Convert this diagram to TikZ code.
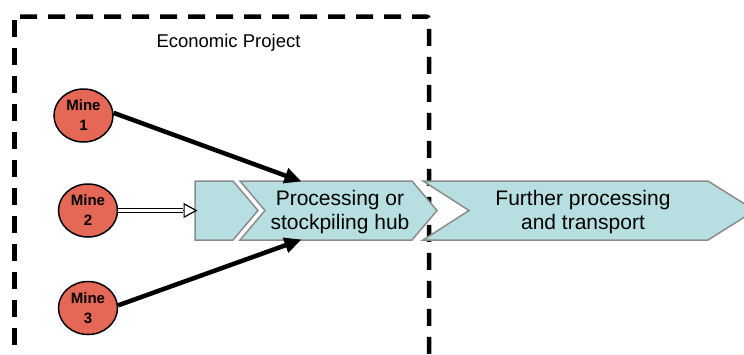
\documentclass[tikz,border=0pt]{standalone}
\usepackage{fontspec}
\setmainfont{Liberation Sans}
\usetikzlibrary{arrows.meta,shapes.geometric}
\definecolor{chevfill}{RGB}{183,223,226}
\definecolor{chevline}{RGB}{140,140,140}
\definecolor{minefill}{RGB}{229,104,86}

\begin{document}
\begin{tikzpicture}[x=1pt,y=-1pt,
  frame/.style={line width=4.5pt, dash pattern=on 17pt off 11pt},
  chev/.style={fill=chevfill, draw=chevline, line width=1.5pt, line join=miter},
  mine/.style={ellipse, draw=black, line width=1.5pt, fill=minefill,
    minimum width=59pt, minimum height=53pt, inner sep=0pt, align=center,
    font=\fontsize{15}{20}\selectfont\bfseries},
  flow/.style={align=center, font=\fontsize{21}{24.5}\selectfont},
  feed/.style={line width=4.5pt, -{Triangle[length=17pt,width=15pt]}},
  feedshaft/.style={line width=1.2pt, double=white, double distance=3.4pt},
  feedhead/.style={line width=1.2pt, -{Triangle[open,length=14pt,width=15pt]}}
]
\useasboundingbox (0,0) rectangle (744,354);
\clip (0,0) rectangle (744,354);

% dashed boundary of the economic project (open at the bottom)
\draw[frame, dash phase=24.5pt] (14.5,16.5) -- (14.5,370);
\draw[frame, dash phase=22.5pt, rounded corners=3pt] (14.5,16.5) -- (429,16.5) -- (429,370);
\node[font=\fontsize{18.5}{22}\selectfont] (title) at (228.5,43) {Economic Project};

% process chevrons
\draw[chev] (195,181) -- (233,181) -- (258,210.5) -- (233,240) -- (195,240) -- cycle;
\draw[chev] (240,181) -- (412,181) -- (437,210.5) -- (412,240) -- (240,240) -- (265,210.5) -- cycle;
\draw[chev] (423,181) -- (708,181) -- (755,210.5) -- (708,240) -- (423,240) -- (469,210.5) -- cycle;
\node[flow] (hub) at (340,212) {Processing or\\stockpiling hub};
\node[flow] (further) at (583,212) {Further processing\\and transport};

% entry points on the chevrons
\coordinate (c1in) at (197.5,210.5);
\coordinate (m2head) at (182.5,210.5);
\coordinate (hubtop) at (301.5,181.5);
\coordinate (hubbot) at (301.5,239.5);

% mines
\node[mine] (m1) at (83.5,115.5) {Mine\\1};
\node[mine] (m2) at (88,210.5) {Mine\\2};
\node[mine] (m3) at (88,308) {Mine\\3};

% flows from the mines
\draw[feed] (m1.5) -- (hubtop);
\draw[feed] (m3.5) -- (hubbot);
\draw[feedshaft] (m2.east) -- (m2head);
\draw[feedhead] (m2head) -- (c1in);
\end{tikzpicture}
\end{document}
